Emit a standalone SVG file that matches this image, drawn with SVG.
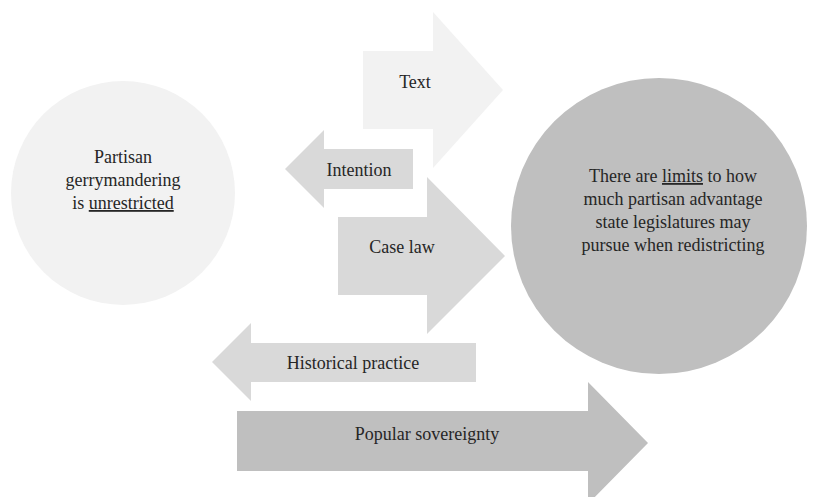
<svg xmlns="http://www.w3.org/2000/svg" width="823" height="497" viewBox="0 0 823 497">
<style>
.t{font-size:18px;fill:#262626;text-anchor:middle}
.l1{fill:#f2f2f2}.l2{fill:#d9d9d9}.l3{fill:#bfbfbf}
.u{text-decoration:underline}
</style>
<rect width="823" height="497" fill="#ffffff"/>
<g font-family="Liberation Serif, Times New Roman, serif">
<g id="node-left">
<circle class="l1" cx="123" cy="193" r="112"/>
<text class="t" x="123" y="163">Partisan</text>
<text class="t" x="123" y="186">gerrymandering</text>
<text class="t" x="123" y="209">is <tspan class="u">unrestricted</tspan></text>
</g>
<g id="node-right">
<circle class="l3" cx="659" cy="226" r="148"/>
<text class="t" x="673" y="182">There are <tspan class="u">limits</tspan> to how</text>
<text class="t" x="673" y="205">much partisan advantage</text>
<text class="t" x="673" y="228">state legislatures may</text>
<text class="t" x="673" y="251">pursue when redistricting</text>
</g>
<g id="connectors">
<g id="arrow-text">
<polygon class="l1" points="363,51 433,51 433,12 503,90 433,168 433,129 363,129"/>
<text class="t" x="415" y="88">Text</text>
</g>
<g id="arrow-intention">
<polygon class="l2" points="413,149 324,149 324,130 285,169 324,208 324,189 413,189"/>
<text class="t" x="359" y="176">Intention</text>
</g>
<g id="arrow-caselaw">
<polygon class="l2" points="338,217 427,217 427,177 505,256 427,334 427,295 338,295"/>
<text class="t" x="402" y="253">Case law</text>
</g>
<g id="arrow-historical">
<polygon class="l2" points="476,343 251,343 251,323 212,362 251,401 251,382 476,382"/>
<text class="t" x="353" y="369">Historical practice</text>
</g>
<g id="arrow-popular">
<polygon class="l3" points="237,411 588,411 588,382 648,443 588,504 588,471 237,471"/>
<text class="t" x="427" y="440">Popular sovereignty</text>
</g>
</g>
</g>
</svg>
